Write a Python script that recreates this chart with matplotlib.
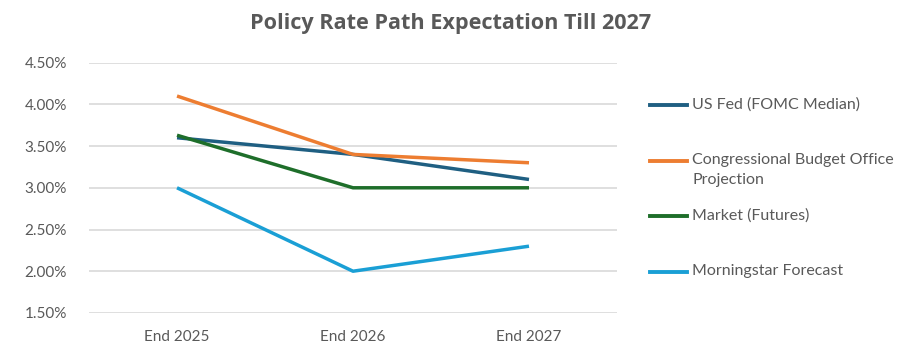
import matplotlib
matplotlib.use("Agg")
import matplotlib.pyplot as plt
from matplotlib.ticker import FuncFormatter

categories = ["End 2025", "End 2026", "End 2027"]
series_names = ["US Fed (FOMC Median)", "Congressional Budget Office\nProjection",
                "Market (Futures)", "Morningstar Forecast"]
fed = [3.60, 3.40, 3.10]
cbo = [4.10, 3.40, 3.30]
market = [3.63, 3.00, 3.00]
morningstar = [3.00, 2.00, 2.30]
yticks = [1.5, 2.0, 2.5, 3.0, 3.5, 4.0, 4.5]

colors = ["#1F5F82", "#ED7D31", "#1E6E2A", "#1A9FD5"]
grey = "#595959"
plt.rcParams['font.family'] = ['Lato', 'DejaVu Sans']

fig = plt.figure(figsize=(9.15, 3.52), dpi=100)
ax = fig.add_axes([0.0973, 0.111, 0.577, 0.711])

x = range(len(categories))
for vals, c in zip([fed, cbo, market, morningstar], colors):
    ax.plot(x, vals, color=c, lw=2.5, solid_capstyle='butt', zorder=3)

ax.set_xlim(-0.5, 2.5)
ax.set_ylim(1.5, 4.5)
ax.set_yticks(yticks)
ax.yaxis.set_major_formatter(FuncFormatter(lambda v, p: f"{v:.2f}%"))
ax.set_xticks(list(x))
ax.set_xticklabels(categories)
ax.grid(axis='y', color='#D9D9D9', lw=1.2)
ax.set_axisbelow(True)
for s in ax.spines.values():
    s.set_visible(False)
ax.tick_params(length=0, labelsize=11, colors=grey)
ax.tick_params(axis='y', pad=16)
ax.tick_params(axis='x', pad=12)

fig.suptitle("Policy Rate Path Expectation Till 2027", x=0.492, y=0.962,
             fontsize=15.6, fontweight='bold', color=grey,
             family=['Open Sans', 'DejaVu Sans'])

# legend drawn by hand so the wrapped label lines up like the original
leg_y = [105, 161, 216, 272]
for name, c, yy in zip(series_names, colors, leg_y):
    yf = 1 - yy / 352
    fig.add_artist(plt.Line2D([650 / 915, 687 / 915], [yf, yf], color=c, lw=2.8,
                              transform=fig.transFigure))
    fig.text(692 / 915, yf + 0.023, name, fontsize=11.5, color=grey,
             va='top', ha='left', linespacing=1.55)

fig.savefig("out.png", dpi=100)
